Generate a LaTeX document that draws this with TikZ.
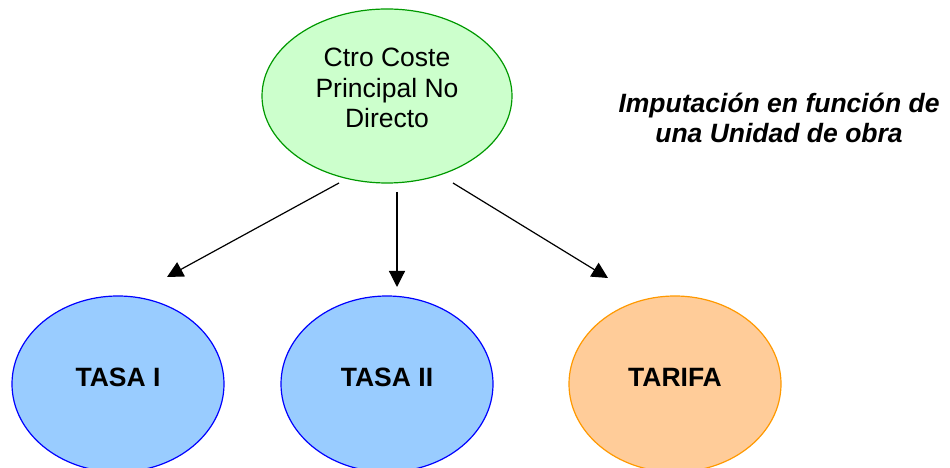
\documentclass[tikz,border=0pt]{standalone}
\usepackage{fontspec}
\setmainfont{Liberation Sans}
\usetikzlibrary{shapes.geometric,arrows.meta}
\definecolor{gfill}{HTML}{CCFFCC}
\definecolor{gline}{HTML}{009900}
\definecolor{bfill}{HTML}{99CCFF}
\definecolor{bline}{HTML}{0000FF}
\definecolor{ofill}{HTML}{FFCC99}
\definecolor{oline}{HTML}{FF9900}
\tikzset{
  oval/.style={ellipse, draw, line width=1.2pt, inner sep=0pt},
  topoval/.style={oval, draw=gline, fill=gfill, minimum width=250pt, minimum height=174pt},
  blueoval/.style={oval, draw=bline, fill=bfill, minimum width=212pt, minimum height=176pt},
  orangeoval/.style={oval, draw=oline, fill=ofill, minimum width=212pt, minimum height=176pt},
  big/.style={font=\fontsize{26.5}{30.5}\selectfont, align=center, inner sep=0pt},
  bigbold/.style={big, font=\fontsize{26.5}{30.5}\selectfont\bfseries},
  link/.style={line width=1.2pt, -{Triangle[length=16pt,width=16pt]}},
}
\begin{document}
\begin{tikzpicture}[x=1pt,y=1pt]
\useasboundingbox (0,0) rectangle (950,468);
\node[topoval] (ctro) at (387,372) {};
\node[big] (ctrotxt) at (387,380) {Ctro Coste\\Principal No\\Directo};
\node[blueoval] (tasa1) at (118,84) {};
\node[bigbold] (tasa1txt) at (118,91) {TASA I};
\node[blueoval] (tasa2) at (387,84) {};
\node[bigbold] (tasa2txt) at (387,91) {TASA II};
\node[orangeoval] (tarifa) at (675,84) {};
\node[bigbold] (tarifatxt) at (675,91) {TARIFA};
\node[big, font=\fontsize{26.5}{30.5}\selectfont\bfseries\itshape] (note) at (779,350) {Imputación en función de\\una Unidad de obra};
\coordinate (s1) at (339,285);
\coordinate (e1) at (167,191);
\coordinate (s2) at (397,276);
\coordinate (e2) at (397,181);
\coordinate (s3) at (453,285);
\coordinate (e3) at (608,190);
\draw[link] (s1) -- (e1);
\draw[link] (s2) -- (e2);
\draw[link] (s3) -- (e3);
\end{tikzpicture}
\end{document}
